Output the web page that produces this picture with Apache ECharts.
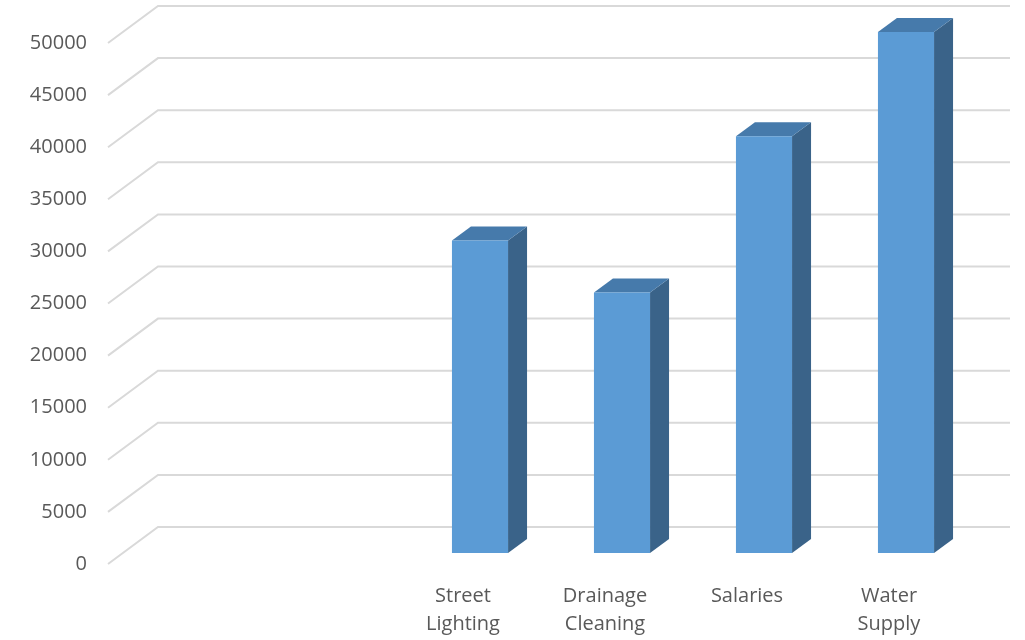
<!DOCTYPE html>
<html>
<head>
<meta charset="utf-8">
<style>html,body{margin:0;padding:0;background:#fff}#c{width:1025px;height:640px}</style>
<script src="https://cdn.jsdelivr.net/npm/echarts@6/dist/echarts.min.js"></script>
</head>
<body>
<div id="c"></div>
<script>
var categories = ['', '', 'Street Lighting', 'Drainage Cleaning', 'Salaries', 'Water Supply'];
var values = [null, null, 30000, 25000, 40000, 50000];
var yTicks = [0, 5000, 10000, 15000, 20000, 25000, 30000, 35000, 40000, 45000, 50000];

var chart = echarts.init(document.getElementById('c'));
var barData = [];
values.forEach(function (v, i) { if (v !== null) barData.push([i, v]); });
var gridData = yTicks.map(function (t) { return [0, t]; });

var DEPTH_X = 50, DEPTH_Y = -37;   // floor depth (front -> back wall)
var BAR_OX = 17, BAR_OY = -11;     // bar front plane offset
var BAR_DX = 19, BAR_DY = -14;     // bar depth

chart.setOption({
  animation: false,
  grid: { left: 108, right: 65, top: 43, bottom: 76 },
  xAxis: {
    type: 'category',
    data: categories,
    axisLine: { show: false },
    axisTick: { show: false },
    axisLabel: {
      interval: 0,
      margin: 18,
      color: '#595959',
      fontSize: 20,
      lineHeight: 28,
      fontFamily: 'Open Sans',
      formatter: function (s) { return s.replace(' ', '\n'); }
    }
  },
  yAxis: {
    type: 'value',
    min: 0, max: 50000, interval: 5000,
    axisLine: { show: false },
    axisTick: { show: false },
    splitLine: { show: false },
    axisLabel: {
      color: '#595959', fontSize: 20, fontFamily: 'Open Sans', margin: 21,
      formatter: function (v) { return String(v); }
    }
  },
  series: [
    {
      type: 'custom',
      z: 1,
      silent: true,
      data: gridData,
      renderItem: function (params, api) {
        var cs = params.coordSys;
        var y = api.coord([0, api.value(1)])[1];
        var l = cs.x, r = cs.x + cs.width;
        return {
          type: 'polyline',
          shape: { points: [[l, y], [l + DEPTH_X, y + DEPTH_Y], [r + DEPTH_X, y + DEPTH_Y]] },
          style: { stroke: '#d9d9d9', lineWidth: 2, fill: null }
        };
      }
    },
    {
      type: 'custom',
      z: 2,
      data: barData,
      renderItem: function (params, api) {
        var c = api.value(0), v = api.value(1);
        var base = api.coord([c, 0]);
        var top = api.coord([c, v]);
        var bw = api.size([1, 0])[0] * 0.395;
        var x0 = base[0] - bw / 2 + BAR_OX, x1 = x0 + bw;
        var yb = base[1] + BAR_OY, yt = top[1] + BAR_OY;
        return {
          type: 'group',
          children: [
            { type: 'polygon', shape: { points: [[x1, yt], [x1 + BAR_DX, yt + BAR_DY], [x1 + BAR_DX, yb + BAR_DY], [x1, yb]] }, style: { fill: '#3a6389' } },
            { type: 'polygon', shape: { points: [[x0, yt], [x0 + BAR_DX, yt + BAR_DY], [x1 + BAR_DX, yt + BAR_DY], [x1, yt]] }, style: { fill: '#467aab' } },
            { type: 'rect', shape: { x: x0, y: yt, width: bw, height: yb - yt }, style: { fill: '#5b9bd5' } }
          ]
        };
      }
    }
  ]
});
</script>
</body>
</html>
